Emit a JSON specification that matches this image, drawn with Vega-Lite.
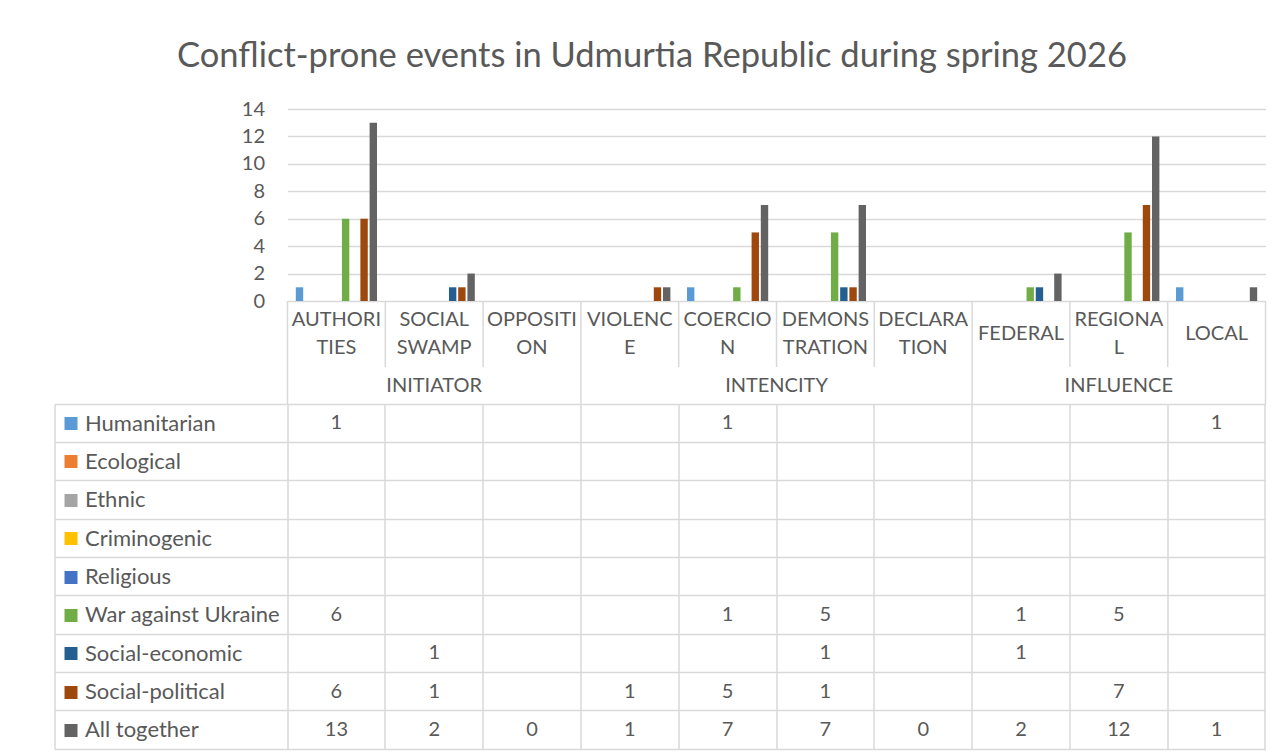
{
  "$schema": "https://vega.github.io/schema/vega-lite/v6.json",
  "padding": {"left": 53.5, "top": 39, "right": 17, "bottom": 6},
  "background": "white",
  "title": {
    "text": "Conflict-prone events in Udmurtia Republic during spring 2026",
    "font": "Lato", "fontSize": 34.5, "fontWeight": "normal", "color": "#595959",
    "anchor": "middle", "frame": "bounds", "offset": 24.5, "dx": -8
  },
  "datasets": {
    "cats": [
      {"cat": "AUTHORITIES", "label": "AUTHORI\nTIES", "group": "INITIATOR", "Humanitarian": 1, "War against Ukraine": 6, "Social-political": 6, "All together": 13},
      {"cat": "SOCIAL SWAMP", "label": "SOCIAL\nSWAMP", "group": "INITIATOR", "Social-economic": 1, "Social-political": 1, "All together": 2},
      {"cat": "OPPOSITION", "label": "OPPOSITI\nON", "group": "INITIATOR", "All together": 0},
      {"cat": "VIOLENCE", "label": "VIOLENC\nE", "group": "INTENCITY", "Social-political": 1, "All together": 1},
      {"cat": "COERCION", "label": "COERCIO\nN", "group": "INTENCITY", "Humanitarian": 1, "War against Ukraine": 1, "Social-political": 5, "All together": 7},
      {"cat": "DEMONSTRATION", "label": "DEMONS\nTRATION", "group": "INTENCITY", "War against Ukraine": 5, "Social-economic": 1, "Social-political": 1, "All together": 7},
      {"cat": "DECLARATION", "label": "DECLARA\nTION", "group": "INTENCITY", "All together": 0},
      {"cat": "FEDERAL", "label": "FEDERAL", "group": "INFLUENCE", "War against Ukraine": 1, "Social-economic": 1, "All together": 2},
      {"cat": "REGIONAL", "label": "REGIONA\nL", "group": "INFLUENCE", "War against Ukraine": 5, "Social-political": 7, "All together": 12},
      {"cat": "LOCAL", "label": "LOCAL", "group": "INFLUENCE", "Humanitarian": 1, "All together": 1}
    ]
  },
  "spacing": 0,
  "bounds": "flush",
  "resolve": {"scale": {"x": "independent", "y": "independent", "color": "independent"}},
  "vconcat": [
    {
      "width": 978, "height": 192,
      "data": {"name": "cats"},
      "transform": [
        {"fold": ["Humanitarian", "Ecological", "Ethnic", "Criminogenic", "Religious", "War against Ukraine", "Social-economic", "Social-political", "All together"], "as": ["series", "value"]},
        {"filter": "isValid(datum.value)"}
      ],
      "mark": {"type": "bar"},
      "encoding": {
        "x": {"field": "cat", "type": "nominal", "axis": null,
              "scale": {"domain": ["AUTHORITIES", "SOCIAL SWAMP", "OPPOSITION", "VIOLENCE", "COERCION", "DEMONSTRATION", "DECLARATION", "FEDERAL", "REGIONAL", "LOCAL"], "paddingInner": 0, "paddingOuter": 0}},
        "xOffset": {"field": "series", "type": "nominal",
              "scale": {"domain": ["Humanitarian", "Ecological", "Ethnic", "Criminogenic", "Religious", "War against Ukraine", "Social-economic", "Social-political", "All together"], "paddingInner": 0.2, "paddingOuter": 0.9}},
        "y": {"field": "value", "type": "quantitative",
              "scale": {"domain": [0, 14], "nice": false},
              "axis": {"values": [0, 2, 4, 6, 8, 10, 12, 14], "grid": true, "gridColor": "#D9D9D9", "gridWidth": 1.5,
                       "domain": false, "ticks": false, "labelPadding": 23, "labelFontSize": 20, "labelFont": "Lato",
                       "labelColor": "#595959", "title": null}},
        "color": {"field": "series", "type": "nominal", "legend": null,
              "scale": {"domain": ["Humanitarian", "Ecological", "Ethnic", "Criminogenic", "Religious", "War against Ukraine", "Social-economic", "Social-political", "All together"],
                        "range": ["#5B9BD5", "#ED7D31", "#A5A5A5", "#FFC000", "#4472C4", "#70AD47", "#255E91", "#9E480E", "#636363"]}}
      }
    },
    {
      "width": 978, "height": 66,
      "data": {"name": "cats"},
      "layer": [
        {
          "mark": {"type": "rule", "color": "#D9D9D9", "strokeWidth": 1.5},
          "encoding": {
            "x": {"field": "cat", "type": "nominal", "bandPosition": 0, "axis": null,
                  "scale": {"domain": ["AUTHORITIES", "SOCIAL SWAMP", "OPPOSITION", "VIOLENCE", "COERCION", "DEMONSTRATION", "DECLARATION", "FEDERAL", "REGIONAL", "LOCAL"], "paddingInner": 0, "paddingOuter": 0}}
          }
        },
        {
          "transform": [{"filter": "datum.cat === 'LOCAL'"}],
          "mark": {"type": "rule", "color": "#D9D9D9", "strokeWidth": 1.5},
          "encoding": {
            "x": {"field": "cat", "type": "nominal", "bandPosition": 1, "axis": null}
          }
        },
        {
          "transform": [{"filter": "indexof(datum.label, '\\n') >= 0"}],
          "mark": {"type": "text", "font": "Lato", "fontSize": 20, "color": "#595959", "lineBreak": "\n", "lineHeight": 28, "baseline": "middle", "dy": -14},
          "encoding": {
            "x": {"field": "cat", "type": "nominal", "axis": null},
            "text": {"field": "label", "type": "nominal"}
          }
        },
        {
          "transform": [{"filter": "indexof(datum.label, '\\n') < 0"}],
          "mark": {"type": "text", "font": "Lato", "fontSize": 20, "color": "#595959", "baseline": "middle"},
          "encoding": {
            "x": {"field": "cat", "type": "nominal", "axis": null},
            "text": {"field": "label", "type": "nominal"}
          }
        }
      ]
    },
    {
      "width": 978, "height": 37,
      "data": {"name": "cats"},
      "layer": [
        {
          "transform": [{"filter": "datum.cat === 'AUTHORITIES' || datum.cat === 'VIOLENCE' || datum.cat === 'FEDERAL'"}],
          "mark": {"type": "rule", "color": "#D9D9D9", "strokeWidth": 1.5},
          "encoding": {
            "x": {"field": "cat", "type": "nominal", "bandPosition": 0, "axis": null,
                  "scale": {"domain": ["AUTHORITIES", "SOCIAL SWAMP", "OPPOSITION", "VIOLENCE", "COERCION", "DEMONSTRATION", "DECLARATION", "FEDERAL", "REGIONAL", "LOCAL"], "paddingInner": 0, "paddingOuter": 0}}
          }
        },
        {
          "transform": [{"filter": "datum.cat === 'LOCAL'"}],
          "mark": {"type": "rule", "color": "#D9D9D9", "strokeWidth": 1.5},
          "encoding": {
            "x": {"field": "cat", "type": "nominal", "bandPosition": 1, "axis": null}
          }
        },
        {
          "transform": [{"filter": "datum.cat === 'SOCIAL SWAMP' || datum.cat === 'REGIONAL'"}],
          "mark": {"type": "text", "font": "Lato", "fontSize": 20, "color": "#595959", "baseline": "middle"},
          "encoding": {
            "x": {"field": "cat", "type": "nominal", "axis": null},
            "text": {"field": "group", "type": "nominal"}
          }
        },
        {
          "transform": [{"filter": "datum.cat === 'DEMONSTRATION'"}],
          "mark": {"type": "text", "font": "Lato", "fontSize": 20, "color": "#595959", "baseline": "middle"},
          "encoding": {
            "x": {"field": "cat", "type": "nominal", "bandPosition": 0, "axis": null},
            "text": {"field": "group", "type": "nominal"}
          }
        }
      ]
    },
    {
      "width": 978, "height": 345,
      "data": {"name": "cats"},
      "transform": [
        {"fold": ["Humanitarian", "Ecological", "Ethnic", "Criminogenic", "Religious", "War against Ukraine", "Social-economic", "Social-political", "All together"], "as": ["series", "value"]}
      ],
      "resolve": {"scale": {"y": "independent"}, "axis": {"y": "independent"}},
      "layer": [
        {
          "mark": {"type": "rect", "opacity": 0},
          "encoding": {
            "x": {"field": "cat", "type": "nominal",
                  "scale": {"domain": ["AUTHORITIES", "SOCIAL SWAMP", "OPPOSITION", "VIOLENCE", "COERCION", "DEMONSTRATION", "DECLARATION", "FEDERAL", "REGIONAL", "LOCAL"], "paddingInner": 0, "paddingOuter": 0},
                  "axis": {"orient": "bottom", "grid": true, "gridColor": "#D9D9D9", "gridWidth": 1.5, "bandPosition": 1, "tickExtra": true,
                           "ticks": false, "labels": false, "domain": false, "title": null}},
            "y": {"field": "series", "type": "nominal",
                  "scale": {"domain": ["Humanitarian", "Ecological", "Ethnic", "Criminogenic", "Religious", "War against Ukraine", "Social-economic", "Social-political", "All together"], "paddingInner": 0, "paddingOuter": 0},
                  "axis": {"orient": "left", "offset": 233, "domain": true, "domainColor": "#D9D9D9", "domainWidth": 1.5,
                           "ticks": true, "tickSize": -233, "tickColor": "#D9D9D9", "tickWidth": 1.5, "bandPosition": 1, "tickExtra": true,
                           "grid": true, "gridColor": "#D9D9D9", "gridWidth": 1.5, "labels": false, "title": null}}
          }
        },
        {
          "transform": [{"filter": "isValid(datum.value)"}],
          "mark": {"type": "text", "font": "Lato", "fontSize": 20, "color": "#595959", "baseline": "middle"},
          "encoding": {
            "x": {"field": "cat", "type": "nominal",
                  "axis": {"orient": "bottom", "grid": true, "gridColor": "#D9D9D9", "gridWidth": 1.5, "bandPosition": 1, "tickExtra": true,
                           "ticks": false, "labels": false, "domain": false, "title": null}},
            "y": {"field": "series", "type": "nominal",
                  "scale": {"domain": ["Humanitarian", "Ecological", "Ethnic", "Criminogenic", "Religious", "War against Ukraine", "Social-economic", "Social-political", "All together"], "paddingInner": 0, "paddingOuter": 0},
                  "axis": {"orient": "left", "offset": 210.5, "domain": false, "grid": false, "title": null,
                           "ticks": true, "tickSize": 13, "tickWidth": 13,
                           "tickColor": {"condition": [
                             {"test": "datum.value === 'Humanitarian'", "value": "#5B9BD5"},
                             {"test": "datum.value === 'Ecological'", "value": "#ED7D31"},
                             {"test": "datum.value === 'Ethnic'", "value": "#A5A5A5"},
                             {"test": "datum.value === 'Criminogenic'", "value": "#FFC000"},
                             {"test": "datum.value === 'Religious'", "value": "#4472C4"},
                             {"test": "datum.value === 'War against Ukraine'", "value": "#70AD47"},
                             {"test": "datum.value === 'Social-economic'", "value": "#255E91"},
                             {"test": "datum.value === 'Social-political'", "value": "#9E480E"}
                           ], "value": "#636363"},
                           "labelAlign": "left", "labelPadding": -20.5, "labelFontSize": 22, "labelFont": "Lato",
                           "labelColor": "#595959", "labelLimit": 0}},
            "text": {"field": "value", "type": "quantitative"}
          }
        }
      ]
    }
  ],
  "config": {
    "view": {"stroke": null},
    "axis": {"labelFont": "Lato"},
    "text": {"font": "Lato"}
  }
}
